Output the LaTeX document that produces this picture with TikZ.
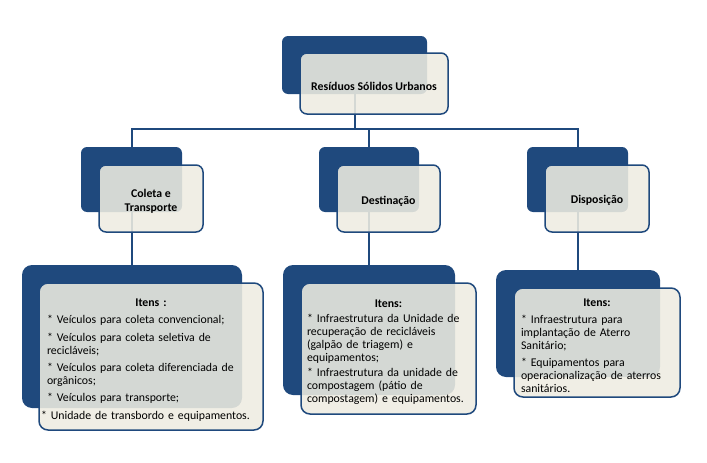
\documentclass[tikz,border=0pt]{standalone}
\usepackage{fontspec}
\setmainfont{Carlito}
\usepackage{xcolor}
\usepackage{tikz}
\usetikzlibrary{positioning,calc}
\definecolor{chartblue}{RGB}{31,73,125}
\definecolor{chartcream}{RGB}{238,236,225}

\begin{document}
\begin{tikzpicture}[
    x=1pt, y=-1pt,
    backbox/.style={rectangle, fill=chartblue, rounded corners=#1, inner sep=0pt},
    frontbox/.style={rectangle, draw=chartblue, line width=1.5pt, fill=chartcream, fill opacity=0.88, rounded corners=#1, inner sep=0pt},
    label/.style={inner sep=0pt, font=\fontsize{11.8}{14}\selectfont\bfseries, align=center},
    items/.style={inner sep=0pt, font=\fontsize{11.8}{12.9}\selectfont, align=left},
    link/.style={draw=chartblue, line width=2pt}
]
\useasboundingbox (0,0) rectangle (707,463);

% Back boxes
\node[backbox=6pt, minimum width=145pt, minimum height=58pt] (rsuBack) at (354.5,65) {};
\node[backbox=6pt, minimum width=101pt, minimum height=65pt] (coletaBack) at (131.5,179.5) {};
\node[backbox=6pt, minimum width=100pt, minimum height=65pt] (destBack) at (369,179.5) {};
\node[backbox=6pt, minimum width=101pt, minimum height=65pt] (dispBack) at (577.5,179.5) {};
\node[backbox=10pt, minimum width=220pt, minimum height=143pt] (coletaItemsBack) at (132,336.5) {};
\node[backbox=10pt, minimum width=172pt, minimum height=130pt] (destItemsBack) at (369,330) {};
\node[backbox=10pt, minimum width=164pt, minimum height=107pt] (dispItemsBack) at (578,323.5) {};

% Connectors
\coordinate (bus) at (354.5,129);
\draw[link] (rsuBack.south) -- (rsuBack.south |- bus);
\draw[link] (coletaBack.north) |- (bus) -| (dispBack.north);
\draw[link] (destBack.north) -- (destBack.north |- bus);
\draw[link] (coletaBack.south) -- (coletaBack.south |- coletaItemsBack.north);
\draw[link] (destBack.south) -- (destBack.south |- destItemsBack.north);
\draw[link] (dispBack.south) -- (dispBack.south |- dispItemsBack.north);

% Front boxes
\node[frontbox=7pt, minimum width=148pt, minimum height=61pt] (rsu) at (374,83.5) {};
\node[frontbox=7pt, minimum width=104pt, minimum height=67pt] (coleta) at (151,198.5) {};
\node[frontbox=7pt, minimum width=103pt, minimum height=67pt] (dest) at (388.5,198.5) {};
\node[frontbox=7pt, minimum width=104pt, minimum height=67pt] (disp) at (597,198.5) {};
\node[frontbox=9pt, minimum width=224pt, minimum height=147pt] (coletaItems) at (151,356.5) {};
\node[frontbox=9pt, minimum width=175pt, minimum height=131pt] (destItems) at (388.5,348.5) {};
\node[frontbox=9pt, minimum width=166pt, minimum height=109pt] (dispItems) at (597,342.5) {};

% Labels
\node[label] (rsuText) at ($(rsu)+(0,3)$) {Resíduos Sólidos Urbanos};
\node[label] (coletaText) at ($(coleta)+(0,3)$) {Coleta e\\Transporte};
\node[label] (destText) at ($(dest)+(0,3)$) {Destinação};
\node[label] (dispText) at ($(disp)+(0,2)$) {Disposição};

% Item lists
\node[items, text width=208pt] (coletaList) at ($(coletaItems)+(0,3.5)$) {%
  \setlength{\parskip}{4.5pt}{\centering\bfseries Itens :\par}
  * Veículos para coleta convencional;\par
  * Veículos para coleta seletiva de\\recicláveis;\par
  * Veículos para coleta diferenciada de\\orgânicos;\par
  * Veículos para transporte;\par
  \hspace*{-6pt}* Unidade de transbordo e equipamentos.};
\node[items, text width=163pt] (destList) at ($(destItems)+(0,3.5)$) {%
  \setlength{\parskip}{2.5pt}{\centering\bfseries Itens:\par}
  * Infraestrutura da Unidade de\\recuperação de recicláveis\\(galpão de triagem) e\\equipamentos;\par
  * Infraestrutura da unidade de\\compostagem (pátio de\\compostagem) e equipamentos.};
\node[items, text width=152pt] (dispList) at ($(dispItems)+(0,3)$) {%
  \setlength{\parskip}{4.5pt}{\centering\bfseries Itens:\par}
  * Infraestrutura para\\implantação de Aterro\\Sanitário;\par
  * Equipamentos para\\operacionalização de aterros\\sanitários.};

\end{tikzpicture}
\end{document}
